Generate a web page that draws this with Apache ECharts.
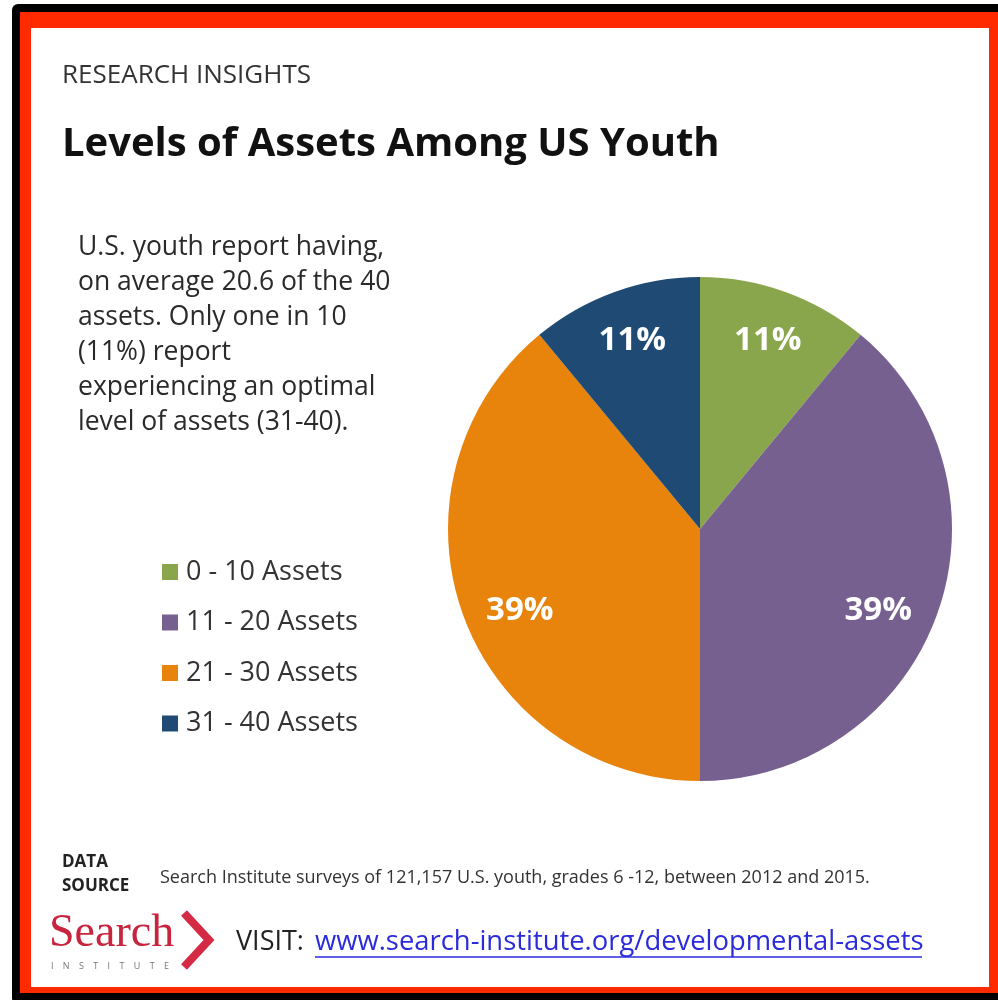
<!DOCTYPE html>
<html>
<head>
<meta charset="utf-8">
<script src="https://cdn.jsdelivr.net/npm/echarts@6/dist/echarts.min.js"></script>
<style>
  html, body { margin: 0; padding: 0; background: #fff; }
  #main { width: 998px; height: 1000px; }
</style>
</head>
<body>
<div id="main"></div>
<script>
// asset levels and share of youth (percent)
const categories = ['0 - 10 Assets', '11 - 20 Assets', '21 - 30 Assets', '31 - 40 Assets'];
const shares = [11, 39, 39, 11];
const colors = ['#8aa64c', '#76608f', '#e8830b', '#1e4a74'];

const introLines = [
  'U.S. youth report having,',
  'on average 20.6 of the 40',
  'assets. Only one in 10',
  '(11%) report',
  'experiencing an optimal',
  'level of assets (31-40).'
];

const font = '"Open Sans", Lato, sans-serif';

var myChart = echarts.init(document.getElementById('main'));

var pieData = categories.map(function (name, i) {
  return { name: name, value: shares[i], itemStyle: { color: colors[i] } };
});

function txt(x, y, text, css, fill) {
  return { type: 'text', x: x, y: y, style: { text: text, font: css, fill: fill, verticalAlign: 'middle' } };
}

// paragraph on the left
var introText = introLines.map(function (line, i) {
  return txt(78, 247 + i * 35, line, '26.5px ' + font, '#2a2a2a');
});

var option = {
  animation: false,
  legend: {
    data: categories,
    orient: 'vertical',
    left: 162, top: 558.5,
    padding: 0,
    itemWidth: 16, itemHeight: 16,
    itemGap: 23.5,
    icon: 'rect',
    selectedMode: false,
    textStyle: { fontFamily: font, fontSize: 27, color: '#333', padding: [0, 0, 0, 3] }
  },
  graphic: [
    // frame: black, red, then white card
    { type: 'rect', z: -10, shape: { x: 12, y: 4, width: 1000, height: 1000, r: 6 }, style: { fill: '#000' } },
    { type: 'rect', z: -9, shape: { x: 20, y: 12, width: 990, height: 981 }, style: { fill: '#ff2a00' } },
    { type: 'rect', z: -8, shape: { x: 31, y: 28, width: 958, height: 959 }, style: { fill: '#fff' } },

    txt(62, 76, 'RESEARCH INSIGHTS', '26px ' + font, '#333'),
    txt(62, 145, 'Levels of Assets Among US Youth', 'bold 40px ' + font, '#111'),

    txt(62, 862, 'DATA', 'bold 17px ' + font, '#222'),
    txt(62, 886, 'SOURCE', 'bold 17px ' + font, '#222'),
    txt(160, 878, 'Search Institute surveys of 121,157 U.S. youth, grades 6 -12, between 2012 and 2015.',
      '18px ' + font, '#333'),

    // logo
    txt(49, 934, 'Search', '46px "Liberation Serif", serif', '#c8243d'),
    txt(51, 966, 'I    N    S    T    I    T    U    T    E', '9px ' + font, '#777'),
    { type: 'polyline', shape: { points: [[184, 913], [209, 940], [184, 967]] },
      style: { stroke: '#d42a45', lineWidth: 8, fill: null } },

    txt(236, 942, 'VISIT:', '27px ' + font, '#222'),
    txt(315, 942, 'www.search-institute.org/developmental-assets', '27.4px ' + font, '#2b2bdc'),
    { type: 'line', shape: { x1: 315, y1: 957, x2: 922, y2: 957 }, style: { stroke: '#2b2bdc', lineWidth: 1.5 } }
  ].concat(introText),
  series: [
    {
      type: 'pie',
      center: [700, 529],
      radius: [0, 252],
      startAngle: 90,
      silent: true,
      label: { show: false },
      labelLine: { show: false },
      data: pieData
    },
    {
      // transparent ring just to place the percentage labels
      type: 'pie',
      center: [700, 529],
      radius: [157, 237],
      startAngle: 90,
      silent: true,
      itemStyle: { color: 'transparent' },
      label: {
        show: true, position: 'inside',
        formatter: '{c}%',
        color: '#fff', fontFamily: font, fontWeight: 'bold', fontSize: 33
      },
      labelLine: { show: false },
      // the big slices carry their labels a bit lower, like the original
      labelLayout: function (p) {
        if (shares[p.dataIndex] < 20) return {};
        var right = p.labelRect.x + p.labelRect.width / 2 > 700;
        return { dx: right ? -10 : 8, dy: 14 };
      },
      data: categories.map(function (name, i) {
        return { name: name, value: shares[i], itemStyle: { color: 'transparent' } };
      })
    }
  ]
};

myChart.setOption(option);
</script>
</body>
</html>
